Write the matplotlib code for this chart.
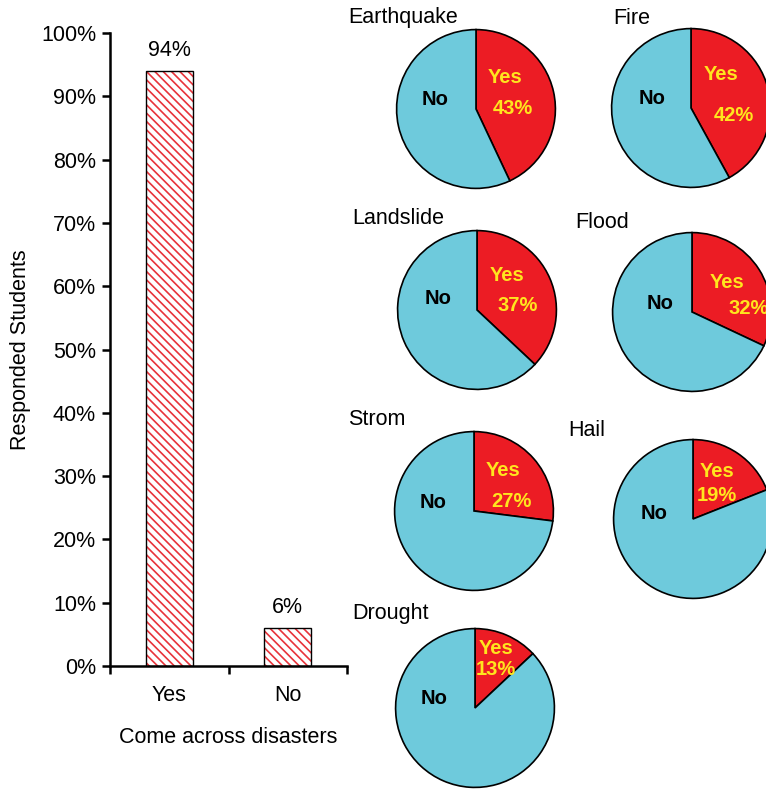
import matplotlib
matplotlib.use("Agg")
import matplotlib.pyplot as plt
from matplotlib.ticker import PercentFormatter

plt.rcParams['font.family'] = ['Liberation Sans', 'DejaVu Sans']
plt.rcParams['hatch.linewidth'] = 1.2

# Bar chart data
bar_categories = ['Yes', 'No']
bar_values = [94, 6]

# Pie chart data (share of students answering "Yes")
disasters = ['Earthquake', 'Fire', 'Landslide', 'Flood', 'Strom', 'Hail', 'Drought']
yes_share = [43, 42, 37, 32, 27, 19, 13]

W, H = 766, 792
fig = plt.figure(figsize=(W / 100, H / 100), dpi=100)

RED = '#EC1C24'
BLUE = '#6ECADC'
YELLOW = '#FFE51E'
HATCH_RED = '#E8333A'


def fig_box(x0, y_top, w, h):
    """Pixel box (top-left origin) to figure fraction rectangle."""
    return [x0 / W, (H - y_top - h) / H, w / W, h / H]


# ---- bar chart ----
ax = fig.add_axes(fig_box(110, 33, 237, 633))
xs = list(range(len(bar_categories)))
# red hatch fill, then a thin black outline on top
ax.bar(xs, bar_values, width=0.4, color='white', edgecolor=HATCH_RED,
       linewidth=0, hatch='\\\\\\\\')
ax.bar(xs, bar_values, width=0.4, fill=False, edgecolor='black', linewidth=1.0)
for x, v in zip(xs, bar_values):
    ax.text(x, v + 1.6, f'{v}%', ha='center', va='bottom', fontsize=15.5)
ax.set_xlim(-0.5, 1.5)
ax.set_ylim(0, 100)
ax.set_yticks(range(0, 101, 10))
ax.yaxis.set_major_formatter(PercentFormatter(decimals=0))
ax.set_xticks(xs)
ax.set_xticklabels(bar_categories)
ax.set_xticks([-0.5, 0.5, 1.5], minor=True)
ax.tick_params(axis='x', which='major', length=0, pad=14, labelsize=15.5)
ax.tick_params(axis='x', which='minor', length=6, width=1.8, direction='out')
ax.tick_params(axis='y', length=6, width=1.8, labelsize=15.5, pad=4)
for s in ('top', 'right'):
    ax.spines[s].set_visible(False)
for s in ('left', 'bottom'):
    ax.spines[s].set_linewidth(1.8)
ax.set_xlabel('Come across disasters', fontsize=15.5, labelpad=15)
ax.set_ylabel('Responded Students', fontsize=15.5, labelpad=7)

# ---- pie charts ----
centers = [(476, 109), (691, 108), (477, 310), (692, 312),
           (474, 511), (693, 519), (475, 708)]
radius = 81
title_pos = [(348, 18), (613, 18), (352, 219), (575, 222),
             (348, 419), (568, 430), (352, 614)]
yes_pos = [(0.37, 0.40), (0.38, 0.42), (0.38, 0.43), (0.44, 0.37),
           (0.36, 0.51), (0.30, 0.60), (0.27, 0.75)]
pct_pos = [(0.46, 0.00), (0.54, -0.10), (0.51, 0.06), (0.72, 0.05),
           (0.47, 0.12), (0.30, 0.29), (0.26, 0.49)]
no_pos = [(-0.51, 0.12), (-0.49, 0.12), (-0.49, 0.15), (-0.40, 0.11),
          (-0.51, 0.11), (-0.49, 0.07), (-0.52, 0.12)]

for i, name in enumerate(disasters):
    cx, cy = centers[i]
    pax = fig.add_axes(fig_box(cx - radius, cy - radius, 2 * radius, 2 * radius))
    yes = yes_share[i]
    pax.pie([yes, 100 - yes], colors=[RED, BLUE], startangle=90,
            counterclock=False, radius=1.0,
            wedgeprops=dict(edgecolor='black', linewidth=1.2))
    pax.set_xlim(-1.02, 1.02)
    pax.set_ylim(-1.02, 1.02)
    pax.set_aspect('equal')
    pax.axis('off')
    pax.text(*yes_pos[i], 'Yes', ha='center', va='center', fontsize=14.5,
             fontweight='bold', color=YELLOW)
    pax.text(*pct_pos[i], f'{yes}%', ha='center', va='center', fontsize=14.5,
             fontweight='bold', color=YELLOW)
    pax.text(*no_pos[i], 'No', ha='center', va='center', fontsize=14.5,
             fontweight='bold', color='black')
    tx, ty = title_pos[i]
    fig.text(tx / W, 1 - ty / H, name, ha='left', va='center', fontsize=15.5)

fig.savefig('out.png', dpi=100)
